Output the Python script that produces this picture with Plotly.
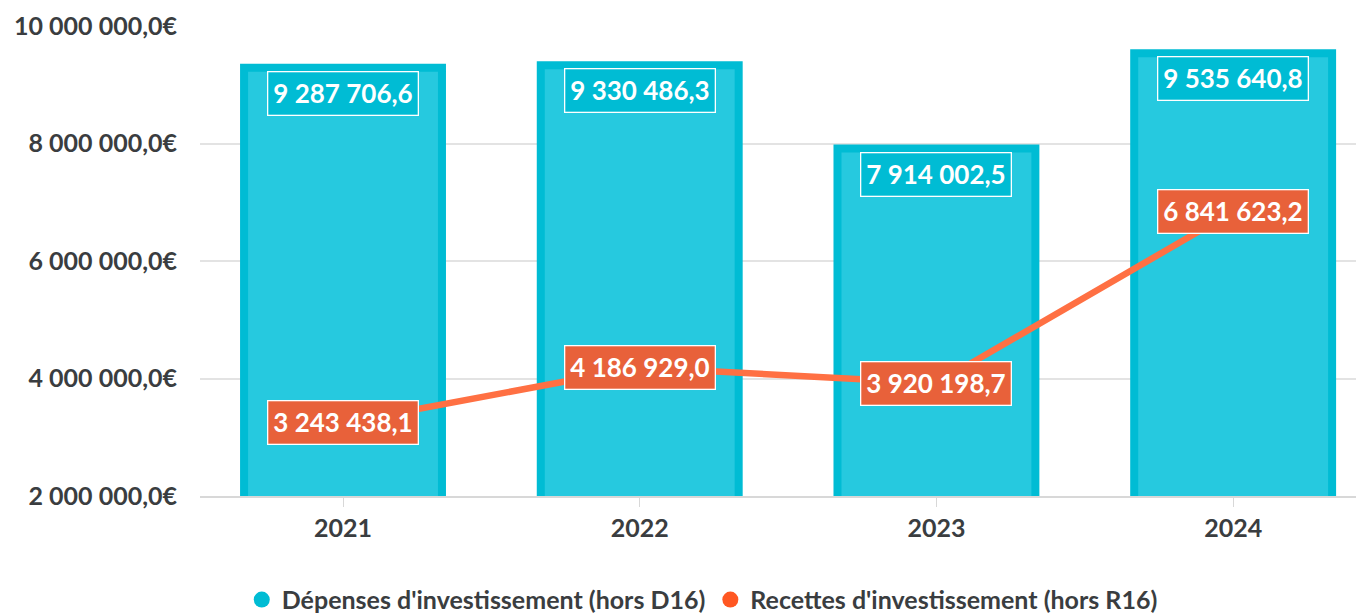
import plotly.graph_objects as go

years = ["2021", "2022", "2023", "2024"]
depenses = [9287706.6, 9330486.3, 7914002.5, 9535640.8]
recettes = [3243438.1, 4186929.0, 3920198.7, 6841623.2]
y_ticks = [2000000, 4000000, 6000000, 8000000, 10000000]
series_names = ["Dépenses d'investissement (hors D16)", "Recettes d'investissement (hors R16)"]

CYAN_DARK = "#00BCD4"
CYAN_FILL = "#26C9DF"
ORANGE_LINE = "#FF7043"
ORANGE_BOX = "#E8613A"
FONT = "Lato"
TXT = "#3a3d40"


def fmt(v):
    s = f"{v:,.1f}"
    return s.replace(",", " ").replace(".", ",")


x_idx = list(range(len(years)))

fig = go.Figure()
fig.add_trace(go.Bar(
    x=x_idx, y=depenses, width=0.667,
    marker=dict(color=CYAN_FILL, line=dict(color=CYAN_DARK, width=8)),
    showlegend=False, hoverinfo="skip",
))
fig.add_trace(go.Scatter(
    x=x_idx, y=recettes, mode="lines",
    line=dict(color=ORANGE_LINE, width=6.5),
    showlegend=False, hoverinfo="skip",
))
# legend entries (circle symbols)
fig.add_trace(go.Scatter(x=[None], y=[None], mode="markers", name=series_names[0],
                         marker=dict(color=CYAN_DARK, size=18, symbol="circle")))
fig.add_trace(go.Scatter(x=[None], y=[None], mode="markers", name=series_names[1],
                         marker=dict(color="#FF5722", size=18, symbol="circle")))

for i, v in enumerate(depenses):
    fig.add_annotation(
        x=i, y=v, yanchor="top", yshift=-3, text=fmt(v), showarrow=False,
        font=dict(family=FONT, size=26, color="white", weight="bold"),
        bgcolor=CYAN_DARK, bordercolor="white", borderwidth=1.3, borderpad=5,
    )
for i, v in enumerate(recettes):
    fig.add_annotation(
        x=i, y=v, yanchor="middle", text=fmt(v), showarrow=False,
        font=dict(family=FONT, size=26, color="white", weight="bold"),
        bgcolor=ORANGE_BOX, bordercolor="white", borderwidth=1.3, borderpad=5,
    )

fig.update_layout(
    width=1356, height=606,
    margin=dict(l=192, r=0, t=18, b=118, autoexpand=False),
    plot_bgcolor="white", paper_bgcolor="white",
    font=dict(family=FONT, color=TXT),
    xaxis=dict(
        tickmode="array", tickvals=x_idx, ticktext=years,
        range=[-0.482, 3.441],
        showgrid=False, zeroline=False,
        showline=True, linecolor="#d8d8d8", linewidth=2,
        ticks="outside", ticklen=9, tickcolor="#d8d8d8", tickwidth=1,
        tickfont=dict(family=FONT, size=25, color=TXT, weight="bold"),
    ),
    yaxis=dict(
        range=[2000000, 10000000],
        tickmode="array", tickvals=y_ticks,
        ticktext=[fmt(t) + "€" for t in y_ticks],
        showgrid=True, gridcolor="#e3e3e3", gridwidth=1.5,
        zeroline=False, ticklabelstandoff=22,
        tickfont=dict(family=FONT, size=25, color=TXT, weight="bold"),
    ),
    legend=dict(
        orientation="h", xref="container",
        x=0.512, xanchor="center", y=-0.221, yanchor="middle",
        font=dict(family=FONT, size=25, color=TXT, weight="bold"),
        itemwidth=30, tracegroupgap=0,
    ),
    bargap=0.3,
)

fig.write_html("out.html")
